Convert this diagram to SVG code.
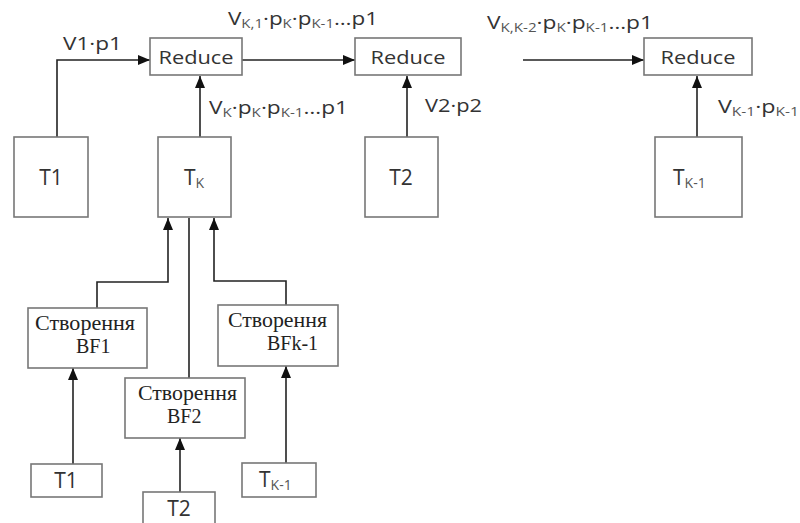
<svg xmlns="http://www.w3.org/2000/svg" width="800" height="523" viewBox="0 0 800 523">
<defs>
<marker id="ah" viewBox="0 0 12 10" refX="12" refY="5" markerWidth="12" markerHeight="10" markerUnits="userSpaceOnUse" orient="auto">
<path d="M0,0 L12,5 L0,10 Z" fill="#111"/>
</marker>
</defs>
<style>
.box{fill:#fff;stroke:#777;stroke-width:1.6}
.ln{fill:none;stroke:#222;stroke-width:1.6}
.arr{fill:none;stroke:#222;stroke-width:1.6;marker-end:url(#ah)}
.s{font-family:"Open Sans","Liberation Sans",sans-serif;font-size:18px;fill:#333}
.t{font-size:21px}
.c{text-anchor:middle}
.sub{font-size:12px;fill:#555}
.tsub{font-size:14px;fill:#555}
.sr{font-family:"Liberation Serif","DejaVu Serif",serif;font-size:20px;fill:#222}
</style>
<rect width="800" height="523" fill="#fff"/>
<g id="connectors">
<path class="arr" d="M57,137 V60 H150"/>
<path class="arr" d="M242,60 H355"/>
<path class="arr" d="M200,137 V76"/>
<path class="arr" d="M407,137 V76"/>
<path class="arr" d="M523,60 H644"/>
<path class="arr" d="M697,137 V76"/>
<path class="arr" d="M97,308 V282 H168 V218"/>
<path class="ln" d="M189,218 V378"/>
<path class="arr" d="M286,305 V281 H214 V218"/>
<path class="arr" d="M73,464 V368"/>
<path class="arr" d="M180,492 V438"/>
<path class="arr" d="M286,463 V366"/>
</g>
<g id="labels">
<text class="s" x="63" y="50" textLength="59" lengthAdjust="spacingAndGlyphs">V1·p1</text>
<text class="s" x="228" y="25" textLength="150" lengthAdjust="spacingAndGlyphs">V<tspan class="sub" dy="3">K,1</tspan><tspan dy="-3">·p</tspan><tspan class="sub" dy="3">K</tspan><tspan dy="-3">·p</tspan><tspan class="sub" dy="3">K-1</tspan><tspan dy="-3">…p1</tspan></text>
<text class="s" x="209" y="114" textLength="139" lengthAdjust="spacingAndGlyphs">V<tspan class="sub" dy="3">K</tspan><tspan dy="-3">·p</tspan><tspan class="sub" dy="3">K</tspan><tspan dy="-3">·p</tspan><tspan class="sub" dy="3">K-1</tspan><tspan dy="-3">…p1</tspan></text>
<text class="s" x="425" y="112" textLength="57" lengthAdjust="spacingAndGlyphs">V2·p2</text>
<text class="s" x="487" y="29" textLength="166" lengthAdjust="spacingAndGlyphs">V<tspan class="sub" dy="3">K,K-2</tspan><tspan dy="-3">·p</tspan><tspan class="sub" dy="3">K</tspan><tspan dy="-3">·p</tspan><tspan class="sub" dy="3">K-1</tspan><tspan dy="-3">…p1</tspan></text>
<text class="s" x="718" y="113" textLength="81" lengthAdjust="spacingAndGlyphs">V<tspan class="sub" dy="3">K-1</tspan><tspan dy="-3">·p</tspan><tspan class="sub" dy="3">K-1</tspan></text>
</g>
<g id="reduce1"><rect class="box" x="150" y="38" width="92" height="37"/><text class="s c" x="196" y="64" textLength="75" lengthAdjust="spacingAndGlyphs">Reduce</text></g>
<g id="reduce2"><rect class="box" x="355" y="38" width="106" height="37"/><text class="s c" x="408" y="64" textLength="75" lengthAdjust="spacingAndGlyphs">Reduce</text></g>
<g id="reduce3"><rect class="box" x="644" y="38" width="108" height="37"/><text class="s c" x="698" y="64" textLength="75" lengthAdjust="spacingAndGlyphs">Reduce</text></g>
<g id="t1"><rect class="box" x="14" y="137" width="74" height="80"/><text class="s t c" x="51" y="185">T1</text></g>
<g id="tk"><rect class="box" x="158" y="137" width="73" height="80"/><text class="s t" x="184" y="185">T<tspan class="tsub" dy="3">K</tspan></text></g>
<g id="t2"><rect class="box" x="365" y="137" width="73" height="80"/><text class="s t c" x="401" y="185">T2</text></g>
<g id="tk1"><rect class="box" x="655" y="137" width="87" height="80"/><text class="s t" x="673" y="185">T<tspan class="tsub" dy="3">K-1</tspan></text></g>
<g id="bf1"><rect class="box" x="28" y="308" width="119" height="60"/><text class="sr" x="35" y="330" textLength="100" lengthAdjust="spacingAndGlyphs">Створення</text><text class="sr" x="76" y="353">BF1</text></g>
<g id="bf2"><rect class="box" x="125" y="378" width="120" height="60"/><text class="sr" x="138" y="400" textLength="99" lengthAdjust="spacingAndGlyphs">Створення</text><text class="sr" x="167" y="423">BF2</text></g>
<g id="bfk1"><rect class="box" x="218" y="305" width="120" height="61"/><text class="sr" x="228" y="327" textLength="99" lengthAdjust="spacingAndGlyphs">Створення</text><text class="sr" x="267" y="350">BFk-1</text></g>
<g id="t1b"><rect class="box" x="31" y="464" width="71" height="33"/><text class="s t c" x="66" y="488">T1</text></g>
<g id="t2b"><rect class="box" x="143" y="492" width="72" height="40"/><text class="s t c" x="179" y="516">T2</text></g>
<g id="tk1b"><rect class="box" x="242" y="463" width="74" height="34"/><text class="s t" x="259" y="487">T<tspan class="tsub" dy="3">K-1</tspan></text></g>
</svg>
